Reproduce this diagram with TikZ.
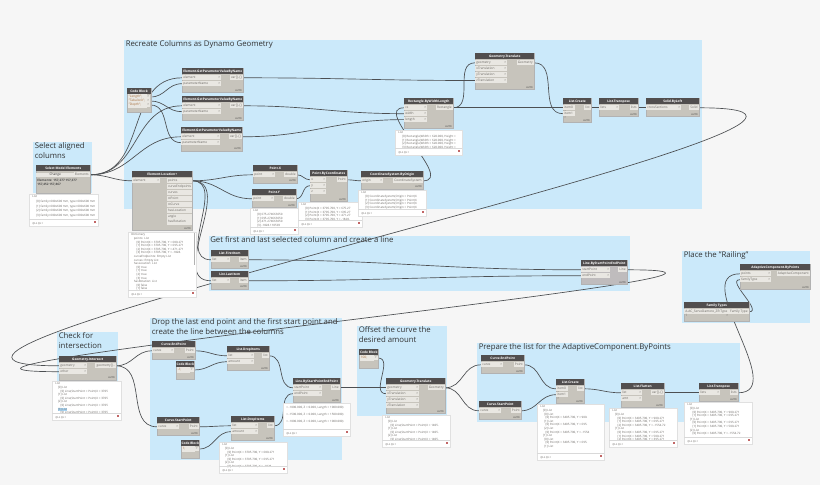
\documentclass[tikz,border=0pt]{standalone}
\usepackage{fontspec}
\setmainfont{Open Sans}
\usetikzlibrary{calc}
\pgfdeclarelayer{grp}
\pgfdeclarelayer{wires}
\pgfsetlayers{grp,wires,main}
\definecolor{pagebg}{HTML}{F6F6F6}
\definecolor{grpblue}{HTML}{CBE9FA}
\definecolor{bodygrey}{HTML}{C7C4BC}
\definecolor{titlegrey}{HTML}{514E4E}
\definecolor{rowgrey}{HTML}{E9E7E2}
\definecolor{wiregrey}{HTML}{4C4F52}
\definecolor{textgrey}{HTML}{6B6864}
\definecolor{codebrown}{HTML}{A8703F}
\definecolor{hlblue}{HTML}{A9D6F5}
\newcommand{\nodefont}{\fontsize{2.4}{3}\selectfont}
\newcommand{\prevfont}{\fontsize{2.2}{2.7}\selectfont}
\tikzset{
  dyngrp/.style={fill=grpblue,inner sep=0pt,anchor=north west},
  dyngrptxt/.style={inner sep=0pt,anchor=north west,align=left,text=black!80,font=\fontsize{5.85}{7.5}\selectfont},
  dynbody/.style={draw=black!30,line width=0.25pt,fill=bodygrey,inner sep=0pt,anchor=north west},
  dyntitle/.style={fill=titlegrey,text=white,inner sep=0pt,anchor=north west,minimum height=4.5pt,font=\nodefont\bfseries},
  dynin/.style={fill=rowgrey,text=textgrey,inner sep=0.8pt,anchor=west,minimum height=4pt,text height=1.8pt,text depth=0.5pt,align=left,font=\nodefont},
  dynout/.style={fill=rowgrey,text=textgrey,inner xsep=0.8pt,inner ysep=0pt,anchor=east,minimum height=4pt,text height=1.8pt,text depth=0.5pt,font=\nodefont},
  dynlacing/.style={inner sep=0pt,anchor=south east,text=black!80,font=\fontsize{1.8}{2}\selectfont},
  dynprevbox/.style={draw=black!12,line width=0.25pt,fill=white,inner sep=0pt,anchor=north west},
  dynprevtxt/.style={inner sep=0pt,anchor=north west,align=left,text=textgrey,font=\prevfont},
  dynprevfoot/.style={inner sep=0pt,anchor=south west,text=textgrey,font=\fontsize{1.9}{2}\selectfont},
  wire/.style={draw=wiregrey,line width=0.5pt}
}
\newif\ifdynlace
\dynlacetrue
% name, x, y, w, h, title, inputs, input width, outputs
\newcommand{\dynnode}[9]{%
  \node[dynbody,minimum width=#4*0.75pt,minimum height=#5*0.75pt] (#1) at (#2,#3) {};
  \node[dyntitle,minimum width=#4*0.75pt] (#1-t) at (#2,#3) {#6};
  \if\relax\detokenize{#7}\relax\else
  \foreach \lbl [count=\i] in {#7}
    \node[dynin,text width=#8*0.75pt-1.6pt] (#1-in\i) at (#2,#3+3.9+5.9*\i) {\lbl\hfill>};
  \fi
  \if\relax\detokenize{#9}\relax\else
  \foreach \lbl [count=\i] in {#9}
    \node[dynout] (#1-out\i) at (#2+#4,#3+3.9+5.9*\i) {\lbl};
  \fi
  \ifdynlace
  \node[dynlacing] (#1-l) at (#2+#4-1,#3+#5-0.5) {AUTO};
  \fi
}
% name, x, y, w, h, code lines
\newcommand{\dyncode}[6]{%
  \node[dynbody,minimum width=#4*0.75pt,minimum height=#5*0.75pt] (#1) at (#2,#3) {};
  \node[dyntitle,minimum width=#4*0.75pt] (#1-t) at (#2,#3) {Code Block};
  \foreach \lbl [count=\i] in {#6} {
    \node[dynin,text=codebrown,text width=#4*0.75pt-5pt] (#1-in\i) at (#2+0.5,#3+5+4*\i) {\lbl};
    \node[dynout,minimum height=3pt,text height=1.6pt] (#1-out\i) at (#2+#4,#3+5+4*\i) {>};
  }
}
% name, x, y, w, h, lines
\newcommand{\dynprev}[6]{%
  \node[dynprevbox,minimum width=#4*0.75pt,minimum height=#5*0.75pt] (#1) at (#2,#3) {};
  \node[dynprevtxt] (#1-t) at (#2+3,#3+1.5) {#6};
  \draw[black!15,line width=0.25pt] (#2,#3+#5-7) -- (#2+#4,#3+#5-7);
  \node[dynprevfoot] (#1-f) at (#2+3,#3+#5-1.5) {@L2 @L1};
  \fill[red!60!black!60] (#2+#4-4,#3+#5-5) rectangle (#2+#4-2,#3+#5-3);
}
% name, x1, y1, x2, y2, title
\newcommand{\dyngroup}[6]{%
  \begin{pgfonlayer}{grp}
  \node[dyngrp,minimum width=(#4-#2)*0.75pt,minimum height=(#5-#3)*0.75pt] (#1) at (#2,#3) {};
  \node[dyngrptxt] (#1-t) at (#2+1.5,#3) {#6};
  \end{pgfonlayer}
}
\newcommand{\wire}[2]{%
  \begin{pgfonlayer}{wires}
  \draw[wire] let \p1=(#1),\p2=(#2),\n1={veclen(\x2-\x1,\y2-\y1)/2.3} in
    (\p1) .. controls (\x1+\n1*1pt,\y1) and (\x2-\n1*1pt,\y2) .. (\p2);
  \end{pgfonlayer}
}
\newcommand{\ind}[1]{\hspace*{#1pt}}
\begin{document}
\begin{tikzpicture}[x=0.75pt,y=-0.75pt]

\useasboundingbox (0,0) rectangle (820,485);
\begin{pgfonlayer}{grp}
\fill[pagebg] (0,0) rectangle (820,485);
\end{pgfonlayer}

% groups
\dyngroup{grpcols}{124}{40}{701.5}{209}{Recreate Columns as Dynamo Geometry}
\dyngroup{grpsel}{33}{142}{92}{193}{Select aligned\\columns}
\dyngroup{grpfirst}{208.5}{236}{629.5}{290.5}{Get first and last selected column and create a line}
\dyngroup{grprail}{682}{251}{810}{322.5}{Place the "Railing"}
\dyngroup{grpcheck}{57}{332}{118}{381}{Check for\\intersection}
\dyngroup{grpdrop}{150}{318}{342}{460}{Drop the last end point and the first start point and\\create the line between the columns}
\dyngroup{grpoffs}{357}{326}{447}{416}{Offset the curve the\\desired amount}
\dyngroup{grplist}{477}{343}{740}{421.5}{Prepare the list for the AdaptiveComponent.ByPoints}

% selection
\dynlacefalse
\dynnode{sel}{36}{165}{54}{28}{Select Model Elements}{}{0}{Elements}
\dynlacetrue
\node[fill=rowgrey,text=black!80,minimum width=28.5pt,minimum height=3.4pt,inner sep=0pt,font=\nodefont,anchor=north west] (selbtn) at (36,172.5) {Change};
\node[inner sep=0pt,anchor=north west,align=left,text=black!70,font=\fontsize{2.3}{3}\selectfont\bfseries] (seltxt) at (37,179) {Elements: 157,277 157,377\\157,452 157,867};
\begin{scope}[dynprevtxt/.append style={font=\fontsize{2.2}{3.5}\selectfont}]
\dynprev{selprev}{29}{194}{69}{32}{List\\\ind{3}[0] family=600x600 mm, type=600x600 mm\\\ind{3}[1] family=600x600 mm, type=600x600 mm\\\ind{3}[2] family=600x600 mm, type=600x600 mm\\\ind{3}[3] family=600x600 mm, type=600x600 mm}
\end{scope}

% column geometry
\dyncode{cb}{127}{88}{23.5}{24}{"Length";,"Tabalock";,"Depth";}
\dynnode{par1}{182}{68}{61}{24}{Element.GetParameterValueByName}{element,parameterName}{39}{var[]..[]}
\dynnode{par2}{182}{96}{61}{24}{Element.GetParameterValueByName}{element,parameterName}{39}{var[]..[]}
\dynnode{par3}{181}{127}{61}{23.5}{Element.GetParameterValueByName}{element,parameterName}{39}{var[]..[]}
\newcommand{\lw}[1]{\makebox[17pt][l]{#1}}
\dynnode{loc}{132}{171}{60}{59}{Element.Location+}{element}{28}{\lw{points},\lw{curveEndpoints},\lw{curves},\lw{stPoint},\lw{stCurve},\lw{hasLocation},\lw{angle},\lw{hasRotation}}
\dynprev{locprev}{128}{232}{68}{65}{Dictionary\\\ind{2}points: List\\\ind{4}[0] Point(X = 3705.700, Y = 680.271\\\ind{4}[1] Point(X = 3705.700, Y = 695.271\\\ind{4}[2] Point(X = 3705.700, Y = 471.271\\\ind{4}[3] Point(X = 3705.700, Y = -1828.\\\ind{2}curveEndpoints: Empty List\\\ind{2}curves: Empty List\\\ind{2}hasLocation: List\\\ind{4}[0] true\\\ind{4}[1] true\\\ind{4}[2] true\\\ind{4}[3] true\\\ind{2}hasRotation: List\\\ind{4}[0] false\\\ind{4}[1] false}
\fill[black!30] (193.5,232.5) rectangle (195,265);
\dynnode{ptx}{253}{165}{44}{17.5}{Point.X}{point}{22}{double}
\dynnode{pty}{252}{189}{44}{18}{Point.Y}{point}{22}{double}
\dynprev{ptyprev}{250}{208}{48}{26}{List\\\ind{3}[0] 675.274663650\\\ind{3}[1] 695.274663650\\\ind{3}[2] 471.274663650\\\ind{3}[3] -1828.110593}
\dynnode{ptc}{310}{170}{37}{31}{Point.ByCoordinates}{x,y,z}{16}{Point}
\dynprev{ptcprev}{298}{202}{64}{25}{List\\\ind{3}[0] Point(X = 3705.700, Y = 675.27\\\ind{3}[1] Point(X = 3705.700, Y = 695.27\\\ind{3}[2] Point(X = 3705.700, Y = 471.27\\\ind{3}[3] Point(X = 3705.700, Y = -1828.}
\dynnode{cso}{361}{171}{62}{17.5}{CoordinateSystem.ByOrigin}{origin}{22}{CoordinateSystem}
\dynprev{csoprev}{358}{190}{68}{26}{List\\\ind{3}[0] CoordinateSystem(Origin = Point(X\\\ind{3}[1] CoordinateSystem(Origin = Point(X\\\ind{3}[2] CoordinateSystem(Origin = Point(X\\\ind{3}[3] CoordinateSystem(Origin = Point(X}
\dynnode{rect}{404}{98}{49}{30}{Rectangle.ByWidthLength}{cs,width,length}{23}{Rectangle}
\dynprev{rectprev}{395}{130}{67}{25}{List\\\ind{3}[0] Rectangle(Width = 620.000, Height =\\\ind{3}[1] Rectangle(Width = 620.000, Height =\\\ind{3}[2] Rectangle(Width = 620.000, Height =\\\ind{3}[3] Rectangle(Width = 620.000, Height =}
\dynnode{tr1}{475}{53}{59}{36}{Geometry.Translate}{geometry,xTranslation,yTranslation,zTranslation}{32}{Geometry}
\dynnode{cr1}{563}{98}{28}{24}{List.Create}{item0,item1}{12}{list}
\dynnode{tp1}{599}{98}{39}{18}{List.Transpose}{lists}{20}{lists}
\dynnode{loft}{646}{98}{53}{18}{Solid.ByLoft}{crossSections}{35}{Solid}
\wire{cb-out1.east}{par1-in2.west}
\wire{cb-out2.east}{par2-in2.west}
\wire{cb-out3.east}{par3-in2.west}
\wire{sel-out1.east}{par1-in1.west}
\wire{sel-out1.east}{par2-in1.west}
\wire{sel-out1.east}{par3-in1.west}
\wire{sel-out1.east}{loc-in1.west}
\wire{par1-out1.east}{tr1-in4.west}
\wire{par2-out1.east}{rect-in2.west}
\wire{par3-out1.east}{rect-in3.west}
\wire{rect-out1.east}{cr1-in1.west}
\wire{rect-out1.east}{tr1-in1.west}
\wire{tr1-out1.east}{cr1-in2.west}
\wire{cr1-out1.east}{tp1-in1.west}
\wire{tp1-out1.east}{loft-in1.west}
\wire{loc-out1.east}{ptx-in1.west}
\wire{loc-out1.east}{pty-in1.west}
\wire{ptx-out1.east}{ptc-in1.west}
\wire{pty-out1.east}{ptc-in2.west}
\wire{ptc-out1.east}{cso-in1.west}
\wire{cso-out1.east}{rect-in1.west}

% first and last column
\dynnode{first}{211}{250}{37}{18}{List.FirstItem}{list}{19}{item}
\dynnode{last}{211}{271}{37}{17.5}{List.LastItem}{list}{19}{item}
\begin{scope}[dynbody/.append style={fill=black!18!blue!4!bodygrey}]
\dynnode{line1}{581}{260}{46}{24}{Line.ByStartPointEndPoint}{startPoint,endPoint}{29}{Line}
\end{scope}
\wire{loc-out1.east}{first-in1.west}
\wire{loc-out1.east}{last-in1.west}
\wire{first-out1.east}{line1-in1.west}
\wire{last-out1.east}{line1-in2.west}

% intersection
\dynnode{isect}{59}{356}{57}{23.5}{Geometry.Intersect}{geometry,other}{28}{geometry[]..}
\dynprev{isectprev}{52}{381}{69}{39}{List\\\ind{2}[0] List\\\ind{4}[0] Line(StartPoint = Point(X = 3705\\\ind{2}[1] List\\\ind{4}[0] Line(StartPoint = Point(X = 3705\\\ind{2}[2] List\\\ind{4}[0] Line(StartPoint = Point(X = 3705\\{\setlength{\fboxsep}{0pt}\ind{2}\colorbox{hlblue}{[3] List}}\\\ind{4}[0] Line(StartPoint = Point(X = 3705}
\wire{loft-out1.east}{isect-in1.west}
\wire{line1-out1.east}{isect-in2.west}

% line between the columns
\dynnode{cend}{152}{341}{43}{18}{Curve.EndPoint}{curve}{22}{Point}
\dyncode{cb2}{176}{361}{18}{18}{-1;}
\dynnode{drop1}{227}{346}{42}{24}{List.DropItems}{list,amount}{27}{list}
\dynnode{cstart}{157}{417}{42}{18}{Curve.StartPoint}{curve}{22}{Point}
\dynnode{drop2}{231}{416}{43}{24}{List.DropItems}{list,amount}{27}{list}
\dyncode{cb3}{181}{440}{18}{18}{1;}
\dynprev{drop2prev}{219}{442}{68}{31}{List\\\ind{2}[0] List\\\ind{4}[0] Point(X = 3705.700, Y = 680.271\\\ind{2}[1] List\\\ind{4}[0] Point(X = 3705.700, Y = 695.271\\\ind{2}[2] List\\\ind{4}[0] Point(X = 3705.700, Y = -1828.}
\dynnode{line2}{293}{378}{47}{24}{Line.ByStartPointEndPoint}{startPoint,endPoint}{29}{Line}
\dynprev{line2prev}{283}{403}{67}{33}{\\= -1000.000, Z = 0.000, Length = 1000.000)\\\\= -1500.000, Z = 0.000, Length = 1500.000)\\\\= -1000.000, Z = 0.000, Length = 1000.000)}
\wire{isect-out1.east}{cend-in1.west}
\wire{isect-out1.east}{cstart-in1.west}
\wire{cend-out1.east}{drop1-in1.west}
\wire{cb2-out1.east}{drop1-in2.west}
\wire{cstart-out1.east}{drop2-in1.west}
\wire{cb3-out1.east}{drop2-in2.west}
\wire{drop1-out1.east}{line2-in1.west}
\wire{drop2-out1.east}{line2-in2.west}

% offset
\dyncode{cb4}{359}{349}{19}{19}{100;}
\dynnode{tr2}{386}{378}{59}{35}{Geometry.Translate}{geometry,xTranslation,yTranslation,zTranslation}{33}{Geometry}
\dynprev{tr2prev}{382}{415}{68}{32}{List\\\ind{2}[0] List\\\ind{4}[0] Line(StartPoint = Point(X = 1405.\\\ind{2}[1] List\\\ind{4}[0] Line(StartPoint = Point(X = 1405.\\\ind{2}[2] List\\\ind{4}[0] Line(StartPoint = Point(X = 1405.}
\wire{line2-out1.east}{tr2-in1.west}
\wire{cb4-out1.east}{tr2-in2.west}

% list for the component
\dynnode{cend2}{481}{355}{43}{18}{Curve.EndPoint}{curve}{22}{Point}
\dynnode{cstart2}{479}{401}{42}{18}{Curve.StartPoint}{curve}{22}{Point}
\dynnode{cr2}{556}{379}{28}{24}{List.Create}{item0,item1}{12}{list}
\dynprev{cr2prev}{537}{404}{67}{56}{List\\\ind{2}[0] List\\\ind{3}[0] List\\\ind{4}[0] Point(X = 3405.700, Y = 900.\\\ind{3}[1] List\\\ind{4}[0] Point(X = 3405.700, Y = 695.\\\ind{3}[2] List\\\ind{4}[0] Point(X = 3405.700, Y = -1554\\\ind{2}[1] List\\\ind{3}[0] List\\\ind{4}[0] Point(X = 3405.700, Y = 695.\\\ind{3}[1] List}
\dynnode{flat}{621}{383}{43}{24}{List.Flatten}{list,amt}{21}{var[]..[]}
\dynprev{flatprev}{609}{408}{68}{39}{List\\\ind{2}[0] List\\\ind{4}[0] Point(X = 3405.700, Y = 900.271\\\ind{4}[1] Point(X = 3405.700, Y = 695.271\\\ind{4}[2] Point(X = 3405.700, Y = -1554.72\\\ind{2}[1] List\\\ind{4}[0] Point(X = 3405.700, Y = 695.271\\\ind{4}[1] Point(X = 3405.700, Y = 500.271\\\ind{4}[2] Point(X = 3405.700, Y = 395.271}
\dynnode{tp2}{699}{383}{39}{18}{List.Transpose}{lists}{21}{lists}
\dynprev{tp2prev}{684}{402}{68}{42}{List\\\ind{2}[0] List\\\ind{4}[0] Point(X = 3405.700, Y = 900.271\\\ind{4}[1] Point(X = 3405.700, Y = 695.271\\\ind{2}[1] List\\\ind{4}[0] Point(X = 3405.700, Y = 695.271\\\ind{4}[1] Point(X = 3405.700, Y = 500.271\\\ind{2}[2] List\\\ind{4}[0] Point(X = 3405.700, Y = -1554.72}
\wire{tr2-out1.east}{cend2-in1.west}
\wire{tr2-out1.east}{cstart2-in1.west}
\wire{cend2-out1.east}{cr2-in1.west}
\wire{cstart2-out1.east}{cr2-in2.west}
\wire{cr2-out1.east}{flat-in1.west}
\wire{flat-out1.east}{tp2-in1.west}

% railing
\dynnode{acp}{740}{264}{70}{25}{AdaptiveComponent.ByPoints}{points,familyType}{31}{AdaptiveComponent}
\dynlacefalse
\dynnode{fam}{684}{302}{65}{19}{Family Types}{A-AC\_ServoDamore\_ZR:Type 1}{45}{Family Type}
\dynlacetrue
\wire{tp2-out1.east}{acp-in1.west}
\wire{fam-out1.east}{acp-in2.west}

\end{tikzpicture}
\end{document}
